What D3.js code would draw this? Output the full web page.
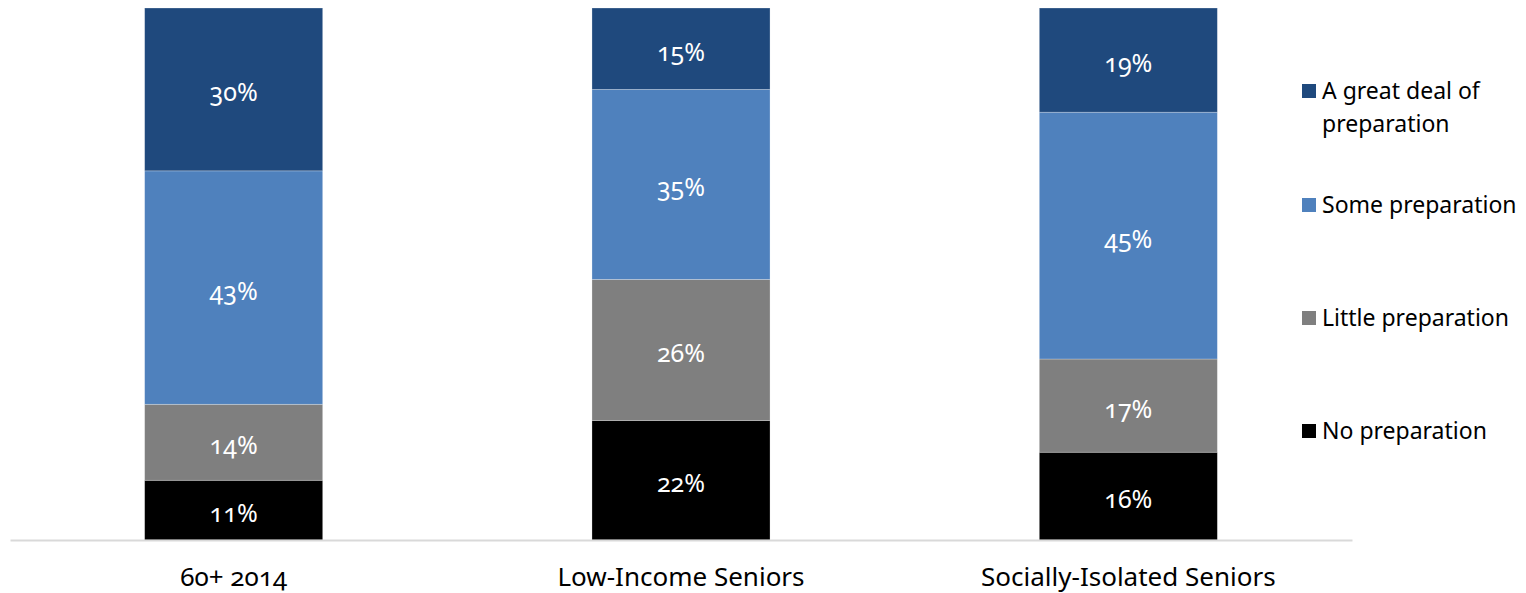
<!DOCTYPE html>
<html>
<head>
<meta charset="utf-8">
<script src="https://cdn.jsdelivr.net/npm/d3@7"></script>
<style>
  body { margin: 0; background: #fff; }
  svg text { font-family: "Noto Sans", "Open Sans", sans-serif; font-variant-numeric: oldstyle-nums; }
</style>
</head>
<body>
<svg width="1526" height="593"></svg>
<script>
// groups along the x axis
var groups = ["60+ 2014", "Low-Income Seniors", "Socially-Isolated Seniors"];

// series, bottom to top
var seriesNames = ["No preparation", "Little preparation", "Some preparation", "A great deal of preparation"];
var noPrep = [11, 22, 16];
var littlePrep = [14, 26, 17];
var somePrep = [43, 35, 45];
var greatPrep = [30, 15, 19];

var colors = ["#000000", "#7f7f7f", "#4f81bd", "#1f497d"];

var rows = groups.map(function(g, i) {
  return {
    group: g,
    "No preparation": noPrep[i],
    "Little preparation": littlePrep[i],
    "Some preparation": somePrep[i],
    "A great deal of preparation": greatPrep[i]
  };
});

var svg = d3.select("svg");

var x = d3.scaleBand()
  .domain(groups)
  .range([10, 1352])
  .paddingInner(0.602)
  .paddingOuter(0.301);

// 100% stacked, like the original
var y = d3.scaleLinear()
  .domain([0, 1])
  .range([540, 8]);

var color = d3.scaleOrdinal().domain(seriesNames).range(colors);

var stack = d3.stack()
  .keys(seriesNames)
  .offset(d3.stackOffsetExpand);

var series = stack(rows);

var layers = svg.append("g")
  .selectAll("g.layer")
  .data(series)
  .enter()
  .append("g")
  .attr("class", "layer")
  .attr("fill", function(d) { return color(d.key); });

layers.selectAll("rect")
  .data(function(d) { return d; })
  .enter()
  .append("rect")
  .attr("x", function(d) { return x(d.data.group); })
  .attr("y", function(d) { return y(d[1]); })
  .attr("width", x.bandwidth())
  .attr("height", function(d) { return y(d[0]) - y(d[1]); })
  .attr("stroke", "rgba(255,255,255,0.35)")
  .attr("stroke-width", 0.75);

// value labels
layers.each(function(s) {
  d3.select(this).selectAll("text")
    .data(s)
    .enter()
    .append("text")
    .attr("x", function(d) { return x(d.data.group) + x.bandwidth() / 2; })
    .attr("y", function(d) { return (y(d[0]) + y(d[1])) / 2 + 3; })
    .attr("dy", "0.36em")
    .attr("text-anchor", "middle")
    .attr("fill", "#fff")
    .style("font-size", "25px")
    .text(function(d) { return d.data[s.key] + "%"; });
});

// x axis
var xAxis = svg.append("g")
  .attr("transform", "translate(0,540)")
  .call(d3.axisBottom(x).tickSize(0).tickPadding(28));

xAxis.select(".domain").attr("stroke", "#d9d9d9").attr("stroke-width", 2);
xAxis.selectAll(".tick text")
  .attr("fill", "#000")
  .style("font-size", "26px")
  .style("font-family", "\"Noto Sans\", sans-serif");

// legend, top item first
var legendItems = [
  { key: "A great deal of preparation", lines: ["A great deal of", "preparation"], y: 91 },
  { key: "Some preparation", lines: ["Some preparation"], y: 205 },
  { key: "Little preparation", lines: ["Little preparation"], y: 318 },
  { key: "No preparation", lines: ["No preparation"], y: 431 }
];

var legend = svg.append("g")
  .selectAll("g")
  .data(legendItems)
  .enter()
  .append("g")
  .attr("transform", function(d) { return "translate(1302," + d.y + ")"; });

legend.append("rect")
  .attr("x", 0)
  .attr("y", -7)
  .attr("width", 14)
  .attr("height", 14)
  .attr("fill", function(d) { return color(d.key); });

legend.append("text")
  .attr("x", 20)
  .attr("fill", "#000")
  .style("font-size", "23px")
  .selectAll("tspan")
  .data(function(d) { return d.lines; })
  .enter()
  .append("tspan")
  .attr("x", 20)
  .attr("y", function(d, i) { return i * 33; })
  .attr("dy", "0.36em")
  .text(function(d) { return d; });
</script>
</body>
</html>
